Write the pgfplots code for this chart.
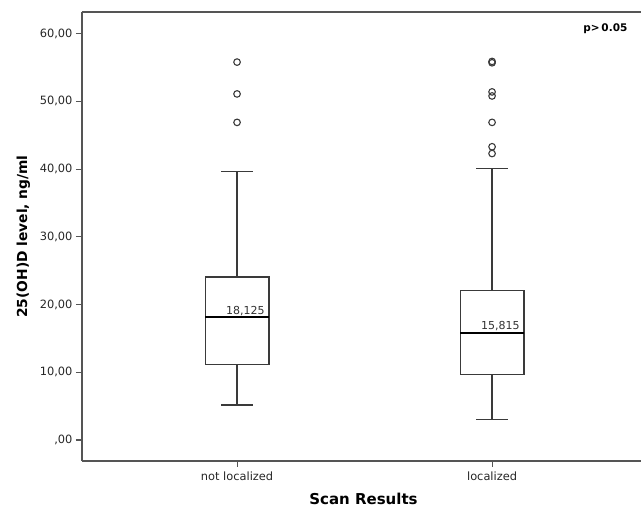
\documentclass[border=0pt]{standalone}
\usepackage{pgfplots}
\pgfplotsset{compat=1.18}
\usepackage{fontspec}
\setmainfont{DejaVu Sans}
\definecolor{boxln}{HTML}{3A3A3A}
\definecolor{frln}{HTML}{555555}
\pgfplotsset{bx/.style={draw=boxln, solid, line width=1.2pt, mark=none},
  md/.style={draw=black, solid, line width=2pt, mark=none},
  ol/.style={only marks, mark=o, mark size=3.3pt, mark options={draw=boxln, solid, line width=1.1pt, fill=none}}}
\begin{document}
\begin{tikzpicture}
\begin{axis}[name=ax, scale only axis, width=559pt, height=449pt,
  xmin=0.392, xmax=2.584, ymin=-3.1, ymax=63.2,
  axis x line*=bottom, axis y line*=left,
  axis line style={frln, line width=1.3pt},
  tick style={frln, line width=1.1pt}, tick align=outside, major tick length=6pt,
  xtick={1,2}, xticklabels={not localized, localized},
  ytick={0,10,20,30,40,50,60},
  yticklabels={{,00},{10,00},{20,00},{30,00},{40,00},{50,00},{60,00}},
  ticklabel style={font=\fontsize{11.4}{13}\selectfont, text=black!85},
  xticklabel style={yshift=-1pt},
  /pgf/number format/assume math mode=true,
  xlabel={\textbf{Scan Results}},
  ylabel={\textbf{25(OH)D level, ng/ml}},
  xlabel style={at={(axis description cs:0.5036,-0.0958)}, anchor=base, font=\fontsize{15}{17}\selectfont},
  ylabel style={at={(axis description cs:-0.1047,0.5)}, anchor=center, font=\fontsize{13.8}{16}\selectfont},
  clip=false,
]
% --- not localized: Q1=11.18, median=18.125, Q3=24.07, whiskers 5.17 / 39.6
\addplot[bx] coordinates {(1,24.07) (1,39.6)};
\addplot[bx] coordinates {(0.9375,39.6) (1.0625,39.6)};
\addplot[bx] coordinates {(1,11.18) (1,5.17)};
\addplot[bx] coordinates {(0.9375,5.17) (1.0625,5.17)};
\addplot[bx] coordinates {(0.875,11.18) (1.125,11.18) (1.125,24.07) (0.875,24.07) (0.875,11.18)};
\addplot[md] coordinates {(0.875,18.125) (1.125,18.125)};
\addplot[ol] coordinates {(1,55.8) (1,51.1) (1,46.9)};
% --- localized: Q1=9.7, median=15.815, Q3=22.05, whiskers 3.06 / 40.1
\addplot[bx] coordinates {(2,22.05) (2,40.1)};
\addplot[bx] coordinates {(1.9375,40.1) (2.0625,40.1)};
\addplot[bx] coordinates {(2,9.7) (2,3.06)};
\addplot[bx] coordinates {(1.9375,3.06) (2.0625,3.06)};
\addplot[bx] coordinates {(1.875,9.7) (2.125,9.7) (2.125,22.05) (1.875,22.05) (1.875,9.7)};
\addplot[md] coordinates {(1.875,15.815) (2.125,15.815)};
\addplot[ol] coordinates {(2,55.9) (2,55.7) (2,51.4) (2,50.8) (2,46.9) (2,43.3) (2,42.3)};
\node[anchor=south east, inner sep=1.5pt, font=\fontsize{11}{13}\selectfont, text=black!80] at (axis cs:1.115,18.125) {18,125};
\node[anchor=south east, inner sep=1.5pt, font=\fontsize{11}{13}\selectfont, text=black!80] at (axis cs:2.115,15.815) {15,815};
\node[anchor=east, font=\bfseries\fontsize{10.5}{12}\selectfont] at (rel axis cs:0.982,0.962) {p>\,0.05};
\end{axis}
\draw[frln, line width=1.3pt] (ax.north west) -- ++(600pt,0);
\pgfresetboundingbox
\path[use as bounding box] ([xshift=-82pt,yshift=-47pt]ax.south west) rectangle ([xshift=559pt,yshift=461pt]ax.south west);
\end{tikzpicture}
\end{document}
